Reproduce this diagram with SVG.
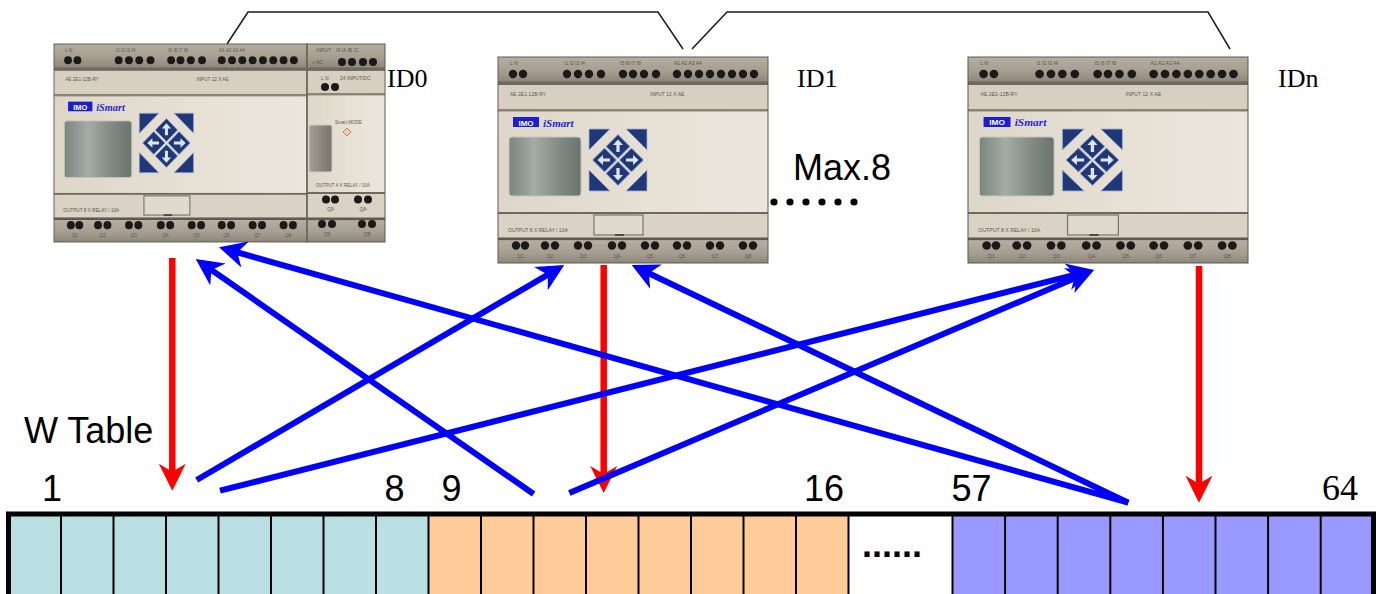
<svg xmlns="http://www.w3.org/2000/svg" width="1380" height="594" viewBox="0 0 1380 594">
  <style>
    .lbl{font-family:"Liberation Sans",Arial,Helvetica,sans-serif;font-size:36px;fill:#000}
    .ser{font-family:"Liberation Serif","Times New Roman",serif;font-size:36px;fill:#000}
    .id{font-family:"Liberation Serif","Times New Roman",serif;font-size:26px;fill:#000}
    .tiny{font-family:"Liberation Sans",Arial,sans-serif;font-size:5px;fill:#5d574e}
    .wire{fill:none;stroke:#1a1a1a;stroke-width:1.5}
    .red{stroke:#ff0000;stroke-width:6.5;fill:none;marker-end:url(#headR)}
    .blue{stroke:#0000ff;stroke-width:6;fill:none;marker-end:url(#headB)}
    .div{stroke:#000;stroke-width:2}
    .dot{fill:#1c1a18}
    .key{fill:#213878;stroke:#a4b3d6;stroke-width:0.8;stroke-linejoin:round}
    .karr{fill:#dfe7f7}
  </style>
  <defs>
    <linearGradient id="stripGrad" x1="0" y1="0" x2="0" y2="1">
      <stop offset="0" stop-color="#b5aea1"/>
      <stop offset="0.6" stop-color="#a39c8f"/>
      <stop offset="1" stop-color="#8c8579"/>
    </linearGradient>
    <linearGradient id="bodyGrad" x1="0" y1="0" x2="1" y2="0">
      <stop offset="0" stop-color="#ddd6c9"/>
      <stop offset="0.5" stop-color="#e6e0d4"/>
      <stop offset="1" stop-color="#ebe6dc"/>
    </linearGradient>
    <linearGradient id="lcdGrad" x1="0" y1="0" x2="1" y2="0">
      <stop offset="0" stop-color="#7b8580"/>
      <stop offset="0.35" stop-color="#a3aca7"/>
      <stop offset="0.7" stop-color="#818a85"/>
      <stop offset="1" stop-color="#6a736e"/>
    </linearGradient>
    <linearGradient id="winGrad" x1="0" y1="0" x2="1" y2="0">
      <stop offset="0" stop-color="#a19d97"/>
      <stop offset="1" stop-color="#77736d"/>
    </linearGradient>

    <marker id="headB" markerUnits="userSpaceOnUse" markerWidth="30" markerHeight="30" viewBox="0 -15 30 30" refX="15" refY="0" orient="auto">
      <path d="M27,0 L0,-13.5 L8,0 L0,13.5 Z" fill="#0000ff"/>
    </marker>
    <marker id="headR" markerUnits="userSpaceOnUse" markerWidth="30" markerHeight="30" viewBox="0 -15 30 30" refX="15" refY="0" orient="auto">
      <path d="M27,0 L0,-13.5 L8,0 L0,13.5 Z" fill="#ff0000"/>
    </marker>

    <!-- keypad pieces -->
    <path id="dkey" d="M0,-12 L12,0 L0,12 L-12,0 Z"/>
    <path id="karrow" d="M0,-7 L5,-1.5 L1.6,-1.5 L1.6,5.5 L-1.6,5.5 L-1.6,-1.5 L-5,-1.5 Z"/>

    <!-- base PLC unit, drawn in a 270 x 206 box -->
    <g id="plc">
      <rect x="0" y="0" width="270" height="206" fill="url(#bodyGrad)"/>
      <!-- top terminal strip -->
      <rect x="0" y="0" width="270" height="25" fill="url(#stripGrad)"/>
      <rect x="0" y="24.5" width="270" height="3.5" fill="#6e685e"/>
      <text class="tiny" x="12" y="8">L  N</text>
      <text class="tiny" x="66" y="8">I1 I2 I3 I4</text>
      <text class="tiny" x="122" y="8">I5 I6 I7 I8</text>
      <text class="tiny" x="176" y="8">A1 A2 A3 A4</text>
      <g class="dot">
        <circle cx="15" cy="17" r="4.2"/><circle cx="25" cy="17" r="4.2"/>
        <circle cx="69" cy="17" r="4.2"/><circle cx="80" cy="17" r="4.2"/><circle cx="91" cy="17" r="4.2"/><circle cx="103" cy="17" r="4.2"/>
        <circle cx="125" cy="17" r="4.2"/><circle cx="135" cy="17" r="4.2"/><circle cx="146" cy="17" r="4.2"/><circle cx="158" cy="17" r="4.2"/>
        <circle cx="179" cy="17" r="4.2"/><circle cx="190" cy="17" r="4.2"/><circle cx="201" cy="17" r="4.2"/><circle cx="212" cy="17" r="4.2"/>
        <circle cx="223" cy="17" r="4.2"/><circle cx="234" cy="17" r="4.2"/><circle cx="245" cy="17" r="4.2"/><circle cx="256" cy="17" r="4.2"/>
      </g>
      <!-- label band -->
      <rect x="0" y="28" width="270" height="24" fill="#d7d0c2"/>
      <rect x="0" y="52" width="270" height="2.5" fill="#8a8478"/>
      <text class="tiny" x="12" y="39">AE 2E1-12B-RY</text>
      <text class="tiny" x="152" y="39">INPUT 12 X AE</text>
      <!-- logo -->
      <rect x="15" y="60" width="26" height="10" fill="#1d1dd6"/>
      <text x="28" y="68.5" text-anchor="middle" font-family="Liberation Sans,Arial,sans-serif" font-weight="bold" font-size="8" fill="#ffffff">IMO</text>
      <text x="45" y="69.5" font-family="Liberation Serif,Times New Roman,serif" font-style="italic" font-weight="bold" font-size="11" fill="#2424e0">iSmart</text>
      <!-- display -->
      <rect x="11" y="80" width="72" height="59" rx="3" fill="url(#lcdGrad)" stroke="#c4c7c1" stroke-width="1"/>
      <!-- keypad -->
      <polygon class="key" points="91,72 112,72 91,93"/>
      <polygon class="key" points="149,72 128,72 149,93"/>
      <polygon class="key" points="91,134 112,134 91,113"/>
      <polygon class="key" points="149,134 128,134 149,113"/>
      <use href="#dkey" class="key" transform="translate(120,89.5)"/>
      <use href="#dkey" class="key" transform="translate(120,116.5)"/>
      <use href="#dkey" class="key" transform="translate(106.5,103)"/>
      <use href="#dkey" class="key" transform="translate(133.5,103)"/>
      <use href="#karrow" class="karr" transform="translate(120,89.5)"/>
      <use href="#karrow" class="karr" transform="translate(120,116.5) rotate(180)"/>
      <use href="#karrow" class="karr" transform="translate(106.5,103) rotate(-90)"/>
      <use href="#karrow" class="karr" transform="translate(133.5,103) rotate(90)"/>
      <!-- output band -->
      <rect x="0" y="155" width="270" height="2" fill="#6e685e"/>
      <rect x="0" y="157" width="270" height="24" fill="#d9d2c5"/>
      <text class="tiny" x="10" y="175">OUTPUT 8 X RELAY / 10A</text>
      <rect x="96" y="158" width="49" height="20" fill="#e0d9cd" stroke="#7a746a" stroke-width="1.2"/>
      <rect x="117" y="177" width="9" height="2" fill="#4e4a44"/>
      <!-- bottom terminal strip -->
      <rect x="0" y="180.5" width="270" height="3" fill="#5e594f"/>
      <rect x="0" y="183.5" width="270" height="22.5" fill="url(#stripGrad)"/>
      <g class="dot">
        <circle cx="18" cy="188.5" r="4.2"/><circle cx="27" cy="188.5" r="4.2"/>
        <circle cx="47" cy="188.5" r="4.2"/><circle cx="57" cy="188.5" r="4.2"/>
        <circle cx="80" cy="188.5" r="4.2"/><circle cx="90" cy="188.5" r="4.2"/>
        <circle cx="114" cy="188.5" r="4.2"/><circle cx="124" cy="188.5" r="4.2"/>
        <circle cx="147" cy="188.5" r="4.2"/><circle cx="157" cy="188.5" r="4.2"/>
        <circle cx="179" cy="188.5" r="4.2"/><circle cx="189" cy="188.5" r="4.2"/>
        <circle cx="212" cy="188.5" r="4.2"/><circle cx="222" cy="188.5" r="4.2"/>
        <circle cx="245" cy="188.5" r="4.2"/><circle cx="255" cy="188.5" r="4.2"/>
      </g>
      <g class="tiny" text-anchor="middle">
        <text x="22.5" y="201">Q1</text><text x="52" y="201">Q2</text><text x="85" y="201">Q3</text><text x="119" y="201">Q4</text>
        <text x="152" y="201">Q5</text><text x="184" y="201">Q6</text><text x="217" y="201">Q7</text><text x="250" y="201">Q8</text>
      </g>
      <rect x="0" y="0" width="270" height="206" fill="none" stroke="#5f5a52" stroke-width="1"/>
    </g>
  </defs>

  <rect width="1380" height="594" fill="#ffffff"/>

  <!-- communication link between the units -->
  <g id="links">
    <polyline class="wire" points="227,44 248,12 658,12 683,49"/>
    <polyline class="wire" points="692,49 727,12 1208,12 1230,49"/>
  </g>

  <!-- ID0 : base unit with expansion module -->
  <g id="node-id0">
    <use href="#plc" transform="translate(54,44) scale(0.937,0.961)"/>
    <g id="id0-expansion">
      <rect x="307" y="44" width="78" height="198" fill="url(#bodyGrad)"/>
      <rect x="307" y="44" width="78" height="24" fill="url(#stripGrad)"/>
      <rect x="307" y="67.5" width="78" height="3.4" fill="#6e685e"/>
      <text class="tiny" x="316" y="52">INPUT</text>
      <text class="tiny" x="336" y="52">I9 IA IB IC</text>
      <text class="tiny" x="312" y="64">+ AC</text>
      <g class="dot">
        <circle cx="342" cy="62" r="4"/><circle cx="352" cy="62" r="4"/><circle cx="363" cy="62" r="4"/><circle cx="373" cy="62" r="4"/>
      </g>
      <rect x="307" y="71" width="78" height="23" fill="#d7d0c2"/>
      <rect x="307" y="93" width="78" height="2.4" fill="#8a8478"/>
      <text class="tiny" x="321" y="80">L  N</text>
      <text class="tiny" x="340" y="80">24 INPUT/DC</text>
      <g class="dot"><circle cx="325" cy="87" r="4"/><circle cx="335" cy="87" r="4"/></g>
      <rect x="309" y="125" width="23" height="47" rx="2" fill="url(#winGrad)" stroke="#cfc9bf" stroke-width="1"/>
      <text class="tiny" x="335" y="124" style="font-size:4.5px">Smart MODE</text>
      <path d="M347,128 L351,132 L347,136 L343,132 Z" fill="#e9cdb8" stroke="#c9805f" stroke-width="1"/>
      <text class="tiny" x="316" y="187" style="font-size:4.5px">OUTPUT 4 X RELAY / 10A</text>
      <rect x="307" y="192" width="78" height="2" fill="#6e685e"/>
      <rect x="307" y="194" width="78" height="23.5" fill="#d9d2c5"/>
      <g class="dot">
        <circle cx="326" cy="199.5" r="4"/><circle cx="335" cy="199.5" r="4"/><circle cx="358" cy="199.5" r="4"/><circle cx="368" cy="199.5" r="4"/>
      </g>
      <text class="tiny" x="330.5" y="211" text-anchor="middle">Q9</text>
      <text class="tiny" x="363" y="211" text-anchor="middle">QA</text>
      <rect x="307" y="217.5" width="78" height="3" fill="#5e594f"/>
      <rect x="307" y="220.5" width="78" height="21.5" fill="url(#stripGrad)"/>
      <g class="dot">
        <circle cx="322" cy="224" r="4"/><circle cx="332" cy="224" r="4"/><circle cx="362" cy="224" r="4"/><circle cx="372" cy="224" r="4"/>
      </g>
      <text class="tiny" x="327" y="236" text-anchor="middle">Q9</text>
      <text class="tiny" x="367" y="236" text-anchor="middle">QB</text>
      <rect x="307" y="44" width="78" height="198" fill="none" stroke="#5f5a52" stroke-width="1"/>
      <line x1="307" y1="44" x2="307" y2="242" stroke="#6e685e" stroke-width="1.5"/>
    </g>
    <text class="id" x="387" y="87">ID0</text>
  </g>

  <!-- ID1 -->
  <g id="node-id1">
    <use href="#plc" transform="translate(498,57)"/>
    <text class="id" x="797" y="87">ID1</text>
  </g>

  <!-- IDn -->
  <g id="node-idn">
    <use href="#plc" transform="translate(968,57) scale(1.037,1)"/>
    <text class="id" x="1278" y="87">IDn</text>
  </g>

  <!-- annotations -->
  <g id="notes">
    <text class="lbl" x="793" y="180">Max.8</text>
    <g id="more-units" fill="#000">
      <circle cx="774" cy="202" r="3.6"/><circle cx="790" cy="202" r="3.6"/><circle cx="806" cy="202" r="3.6"/>
      <circle cx="822" cy="202" r="3.6"/><circle cx="838" cy="202" r="3.6"/><circle cx="854" cy="202" r="3.6"/>
    </g>
    <text class="lbl" x="24" y="443">W Table</text>
  </g>

  <!-- word table: 8 words per station -->
  <g id="w-table">
    <rect x="8.5" y="514" width="420" height="90" fill="#b9dfe2"/>
    <rect x="428.5" y="514" width="420" height="90" fill="#ffcc99"/>
    <rect x="952.5" y="514" width="421" height="90" fill="#9999ff"/>
    <g class="div">
      <line x1="61" y1="514" x2="61" y2="600"/><line x1="113.5" y1="514" x2="113.5" y2="600"/>
      <line x1="166" y1="514" x2="166" y2="600"/><line x1="218.5" y1="514" x2="218.5" y2="600"/>
      <line x1="271" y1="514" x2="271" y2="600"/><line x1="323.5" y1="514" x2="323.5" y2="600"/>
      <line x1="376" y1="514" x2="376" y2="600"/><line x1="428.5" y1="514" x2="428.5" y2="600"/>
      <line x1="481" y1="514" x2="481" y2="600"/><line x1="533.5" y1="514" x2="533.5" y2="600"/>
      <line x1="586" y1="514" x2="586" y2="600"/><line x1="638.5" y1="514" x2="638.5" y2="600"/>
      <line x1="691" y1="514" x2="691" y2="600"/><line x1="743.5" y1="514" x2="743.5" y2="600"/>
      <line x1="796" y1="514" x2="796" y2="600"/><line x1="848.5" y1="514" x2="848.5" y2="600"/>
      <line x1="952.5" y1="514" x2="952.5" y2="600"/><line x1="1005.1" y1="514" x2="1005.1" y2="600"/>
      <line x1="1057.7" y1="514" x2="1057.7" y2="600"/><line x1="1110.3" y1="514" x2="1110.3" y2="600"/>
      <line x1="1162.9" y1="514" x2="1162.9" y2="600"/><line x1="1215.5" y1="514" x2="1215.5" y2="600"/>
      <line x1="1268.1" y1="514" x2="1268.1" y2="600"/><line x1="1320.7" y1="514" x2="1320.7" y2="600"/>
    </g>
    <line x1="6" y1="514" x2="1376" y2="514" stroke="#000" stroke-width="5"/>
    <line x1="8.5" y1="512" x2="8.5" y2="600" stroke="#000" stroke-width="5"/>
    <line x1="1373.5" y1="512" x2="1373.5" y2="600" stroke="#000" stroke-width="5"/>
    <text class="lbl" x="862" y="557" font-weight="bold">......</text>
    <text class="lbl" x="42" y="501">1</text>
    <text class="lbl" x="384.5" y="501">8</text>
    <text class="lbl" x="441.5" y="501">9</text>
    <text class="lbl" x="804" y="501">16</text>
    <text class="lbl" x="951.5" y="501">57</text>
    <text class="ser" x="1322" y="500">64</text>
  </g>

  <!-- data transfers -->
  <g id="connectors">
    <line class="red" x1="172.3" y1="258" x2="172.3" y2="478.7"/>
    <line class="red" x1="603.7" y1="265" x2="603.7" y2="481"/>
    <line class="red" x1="1199" y1="266" x2="1199" y2="490.7"/>
    <line class="blue" x1="196.7" y1="480" x2="553.9" y2="271.1"/>
    <line class="blue" x1="220" y1="490.7" x2="1082.4" y2="272.9"/>
    <line class="blue" x1="533.6" y1="494" x2="205.6" y2="265.9"/>
    <line class="blue" x1="569.3" y1="493" x2="1083" y2="274.7"/>
    <line class="blue" x1="1128.3" y1="502.7" x2="230.6" y2="250.5"/>
    <line class="blue" x1="1128.3" y1="502.7" x2="642.5" y2="270.2"/>
  </g>
</svg>
